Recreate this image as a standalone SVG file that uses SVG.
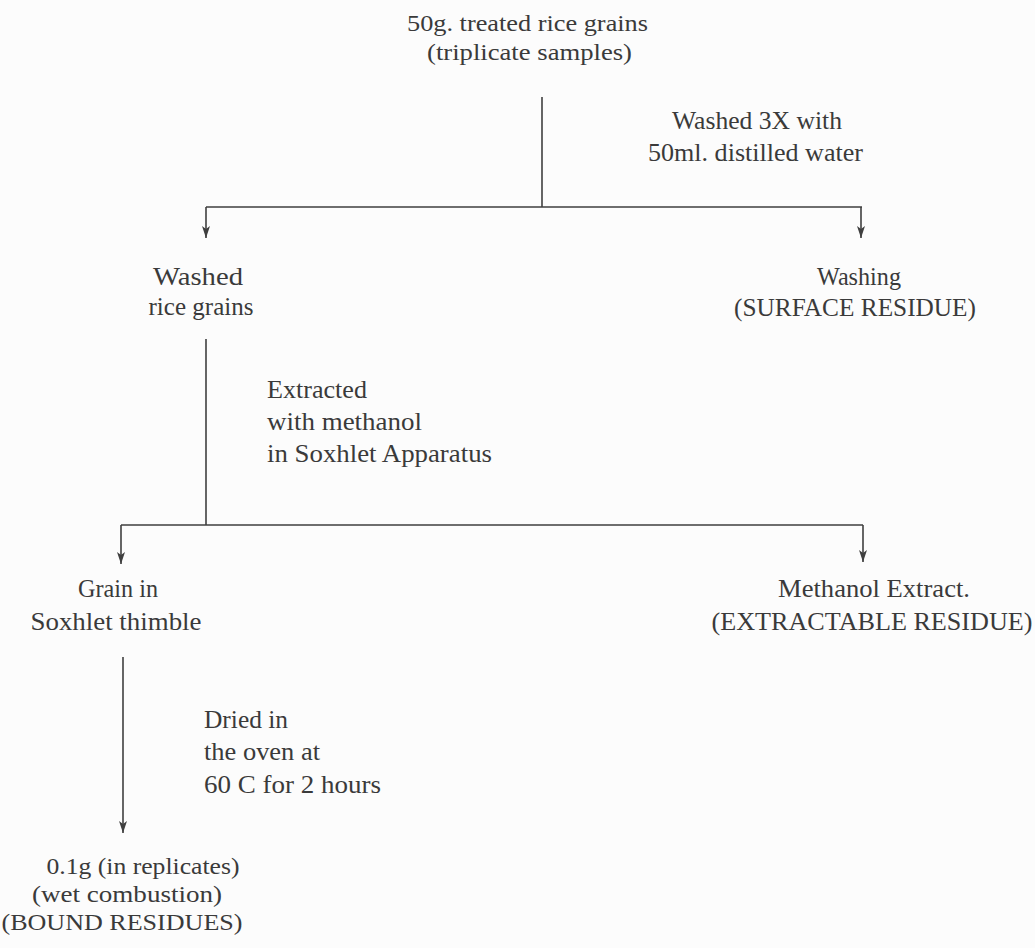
<svg xmlns="http://www.w3.org/2000/svg" width="1035" height="948" viewBox="0 0 1035 948">
<style>
text{font-family:"Liberation Serif","Times New Roman",serif;font-size:26px;fill:#3a3a3a}
.c{text-anchor:middle}
.t{font-size:24px}
.conn line{stroke:#3f3f3f;stroke-width:1.6;fill:none}
</style>
<defs>
<marker id="ah" viewBox="0 0 12 10" refX="12" refY="5" markerWidth="12" markerHeight="10" markerUnits="userSpaceOnUse" orient="auto">
<path d="M0,1 L12,5 L0,9 L3,5 Z" fill="#3f3f3f"/>
</marker>
</defs>
<rect width="1035" height="948" fill="#fcfcfc"/>
<g class="conn" id="connectors">
<line x1="542" y1="97" x2="542" y2="207"/>
<line x1="206" y1="207" x2="862" y2="207"/>
<line x1="206" y1="207" x2="206" y2="238" marker-end="url(#ah)"/>
<line x1="861" y1="207" x2="861" y2="238" marker-end="url(#ah)"/>
<line x1="206" y1="339" x2="206" y2="525"/>
<line x1="121" y1="525" x2="863" y2="525"/>
<line x1="121" y1="525" x2="121" y2="564" marker-end="url(#ah)"/>
<line x1="863" y1="525" x2="863" y2="562" marker-end="url(#ah)"/>
<line x1="123" y1="657" x2="123" y2="833" marker-end="url(#ah)"/>
</g>
<g id="start">
<text class="c t" x="527.5" y="31" textLength="241" lengthAdjust="spacingAndGlyphs">50g. treated rice grains</text>
<text class="c t" x="529.5" y="60" textLength="205" lengthAdjust="spacingAndGlyphs">(triplicate samples)</text>
</g>
<g id="wash-label">
<text class="c" x="757" y="129" textLength="170" lengthAdjust="spacingAndGlyphs">Washed 3X with</text>
<text class="c" x="755.5" y="161" textLength="215" lengthAdjust="spacingAndGlyphs">50ml. distilled water</text>
</g>
<g id="washed-grains">
<text class="c" x="198" y="285" textLength="90" lengthAdjust="spacingAndGlyphs">Washed</text>
<text class="c" x="201" y="315" textLength="105" lengthAdjust="spacingAndGlyphs">rice grains</text>
</g>
<g id="surface">
<text class="c" x="859" y="285" textLength="84" lengthAdjust="spacingAndGlyphs">Washing</text>
<text class="c" x="855" y="316" textLength="242" lengthAdjust="spacingAndGlyphs">(SURFACE RESIDUE)</text>
</g>
<g id="extract-label">
<text x="267" y="398" textLength="100" lengthAdjust="spacingAndGlyphs">Extracted</text>
<text x="267" y="430" textLength="155" lengthAdjust="spacingAndGlyphs">with methanol</text>
<text x="267" y="462" textLength="225" lengthAdjust="spacingAndGlyphs">in Soxhlet Apparatus</text>
</g>
<g id="thimble">
<text class="c" x="118" y="597" textLength="80" lengthAdjust="spacingAndGlyphs">Grain in</text>
<text class="c" x="116" y="630" textLength="171" lengthAdjust="spacingAndGlyphs">Soxhlet thimble</text>
</g>
<g id="extractable">
<text class="c" x="874" y="597" textLength="192" lengthAdjust="spacingAndGlyphs">Methanol Extract.</text>
<text class="c" x="872" y="630" textLength="321" lengthAdjust="spacingAndGlyphs">(EXTRACTABLE RESIDUE)</text>
</g>
<g id="dry-label">
<text x="204" y="728" textLength="84" lengthAdjust="spacingAndGlyphs">Dried in</text>
<text x="204" y="760" textLength="116" lengthAdjust="spacingAndGlyphs">the oven at</text>
<text x="204" y="793" textLength="177" lengthAdjust="spacingAndGlyphs">60 C for 2 hours</text>
</g>
<g id="bound">
<text class="c t" x="143" y="874" textLength="193" lengthAdjust="spacingAndGlyphs">0.1g (in replicates)</text>
<text class="c t" x="127" y="902" textLength="190" lengthAdjust="spacingAndGlyphs">(wet combustion)</text>
<text class="c t" x="122" y="930" textLength="241" lengthAdjust="spacingAndGlyphs">(BOUND RESIDUES)</text>
</g>
</svg>
